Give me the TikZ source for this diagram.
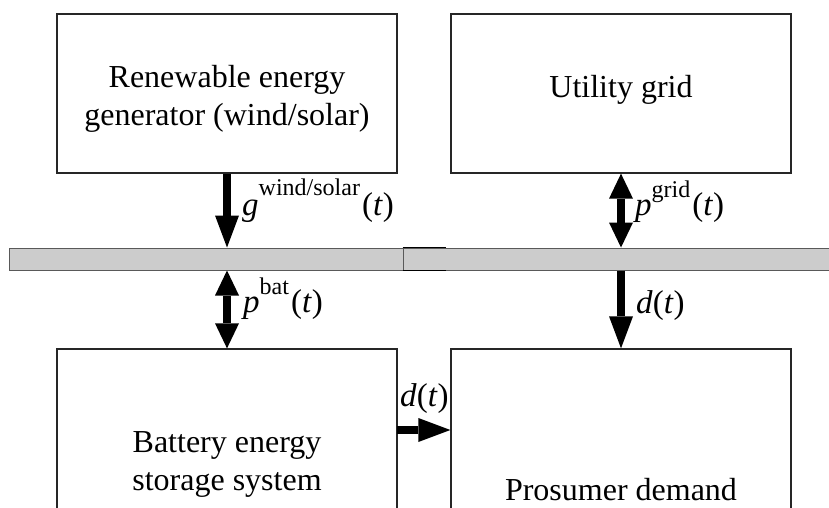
\documentclass[tikz,border=0pt]{standalone}
\usepackage{fontspec}
\setmainfont{Liberation Serif}
\usetikzlibrary{arrows.meta}
\newcommand\sps[2]{\raisebox{#1}{\fontsize{24}{26}\selectfont #2}\hspace{2pt}}
\tikzset{
  boxst/.style={draw=black!85, line width=1.3pt, fill=none},
  barst/.style={draw=black!65, fill=black!20, line width=1pt},
  txt/.style={font=\fontsize{32}{38}\selectfont, align=center, inner sep=0pt},
  lbl/.style={font=\fontsize{33}{38}\selectfont, inner sep=0pt, anchor=base west},
  arr/.style={line width=8pt, -{Triangle[length=32pt,width=24pt,line width=0pt]}},
  darr/.style={line width=8pt, {Triangle[length=25pt,width=24pt,line width=0pt]}-{Triangle[length=25pt,width=24pt,line width=0pt]}},
}
\begin{document}
\begin{tikzpicture}[x=1pt,y=-1pt]
\useasboundingbox (0,0) rectangle (829,508);
\clip (0,0) rectangle (829,508);
% boxes
\node[boxst, minimum width=340pt, minimum height=159pt, inner sep=0pt] (ren) at (227,93.5) {};
\node[boxst, minimum width=340pt, minimum height=159pt, inner sep=0pt] (grid) at (621,93.5) {};
\node[boxst, minimum width=340pt, minimum height=200pt, inner sep=0pt] (bat) at (227,449) {};
\node[boxst, minimum width=340pt, minimum height=200pt, inner sep=0pt] (pro) at (621,449) {};
% texts
\node[txt] (rent) at (227,99) {Renewable energy\\generator (wind/solar)};
\node[txt] (gridt) at (621,90) {Utility grid};
\node[txt] (batt) at (227,464) {Battery energy\\storage system};
\node[txt] (prot) at (621,490) {Prosumer demand};
% bus bar
\node[barst, minimum width=394pt, minimum height=22pt, inner sep=0pt] (bar1) at (206,259) {};
\node[barst, minimum width=440pt, minimum height=22pt, inner sep=0pt] (bar2) at (623,259) {};
\draw[black, line width=1.2pt] (bar2.north west) -- ++(43,0);
\draw[black, line width=1.2pt] (bar2.south west) -- ++(43,0);
% arrows
\draw[arr] (ren.south) -- (ren.south |- bar1.north);
\draw[darr] (grid.south) -- (grid.south |- bar2.north);
\draw[darr] (bat.north |- bar1.south) -- (bat.north);
\draw[arr] (pro.north |- bar2.south) -- (pro.north);
\coordinate (hs) at (397,430);
\draw[arr] (hs) -- (hs -| pro.west);
% labels
\node[lbl] (lg) at (242,215) {\textit{g}\sps{20pt}{wind/solar}(\textit{t})};
\node[lbl] (lpg) at (635,215) {\textit{p}\sps{18pt}{grid}(\textit{t})};
\node[lbl] (lpb) at (243,312) {\textit{p}\sps{18pt}{bat}(\textit{t})};
\node[lbl] (ld1) at (636,313) {\textit{d}(\textit{t})};
\node[lbl] (ld2) at (400,406) {\textit{d}(\textit{t})};
\end{tikzpicture}
\end{document}
